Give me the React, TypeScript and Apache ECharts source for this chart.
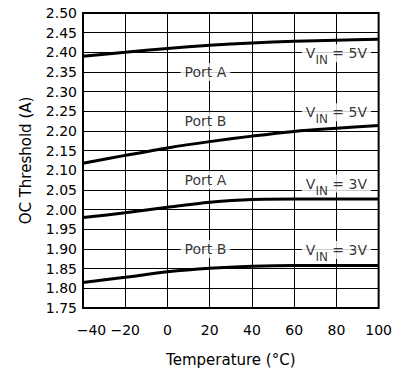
import React, { useEffect, useRef } from 'react';
import * as echarts from 'echarts';

// Temperature (°C) sample points
const temperatures = [-40, -20, 0, 20, 40, 60, 80, 100];
// OC threshold (A) per curve
const portA5V = [2.39, 2.4, 2.41, 2.418, 2.424, 2.428, 2.431, 2.433];
const portB5V = [2.118, 2.138, 2.157, 2.173, 2.187, 2.199, 2.207, 2.214];
const portA3V = [1.98, 1.992, 2.006, 2.019, 2.026, 2.027, 2.027, 2.027];
const portB3V = [1.815, 1.828, 1.842, 1.851, 1.856, 1.858, 1.858, 1.858];

// annotation texts anchored in data coordinates
const portNames = ['Port A', 'Port B', 'Port A', 'Port B'];
const portAnchorX = [18, 18, 18, 18];
const portAnchorY = [2.35, 2.225, 2.075, 1.9];
const vinValues = ['5V', '5V', '3V', '3V'];
const vinAnchorX = [80, 80, 80, 80];
const vinAnchorY = [2.4, 2.25, 2.069, 1.9];

const FONT = 'DejaVu Sans';

export default function App() {
  const ref = useRef<HTMLDivElement>(null);

  useEffect(() => {
    if (!ref.current) return;
    const chart = echarts.init(ref.current, undefined, { renderer: 'svg' });

    const lineSeries = [portA5V, portB5V, portA3V, portB3V].map((vals) => ({
      type: 'line',
      data: temperatures.map((t, i) => [t, vals[i]]),
      smooth: 0.3,
      symbol: 'none',
      lineStyle: { color: '#000', width: 3 },
      silent: true,
      z: 3,
    }));

    const labelBase = {
      show: true,
      position: 'inside',
      backgroundColor: '#fff',
      color: '#000',
      fontFamily: FONT,
      fontSize: 14,
      lineHeight: 16,
      padding: [1, 4, 1, 4],
    };

    const portSeries = {
      type: 'scatter',
      symbolSize: 0.1,
      itemStyle: { color: 'transparent' },
      silent: true,
      z: 5,
      data: portNames.map((n, i) => ({
        value: [portAnchorX[i], portAnchorY[i]],
        label: { ...labelBase, formatter: n },
      })),
    };

    const vinSeries = {
      type: 'scatter',
      symbolSize: 0.1,
      itemStyle: { color: 'transparent' },
      silent: true,
      z: 5,
      data: vinValues.map((v, i) => ({
        value: [vinAnchorX[i], vinAnchorY[i]],
        label: {
          ...labelBase,
          offset: [0, 1],
          formatter: `{m|V}{s|IN}{m| = ${v}}`,
          rich: {
            m: { fontFamily: FONT, fontSize: 14, lineHeight: 16, color: '#000' },
            s: {
              fontFamily: FONT,
              fontSize: 12,
              lineHeight: 16,
              padding: [14, 0, 0, 0],
              color: '#000',
            },
          },
        },
      })),
    };

    chart.setOption({
      animation: false,
      backgroundColor: '#fff',
      textStyle: { fontFamily: FONT, color: '#000' },
      grid: {
        left: 83,
        right: 16,
        top: 13,
        bottom: 68,
        show: true,
        borderColor: '#000',
        borderWidth: 2,
        backgroundColor: 'transparent',
      },
      xAxis: {
        type: 'value',
        min: -40,
        max: 100,
        interval: 20,
        name: 'Temperature (°C)',
        nameLocation: 'middle',
        nameGap: 44,
        nameTextStyle: { fontFamily: FONT, fontSize: 15, color: '#000' },
        axisLine: { show: false },
        axisTick: { show: false },
        splitLine: { show: true, lineStyle: { color: '#000', width: 1 } },
        axisLabel: {
          fontFamily: FONT,
          fontSize: 14,
          color: '#000',
          margin: 15,
          formatter: (v: number) =>
            v === -40 ? '{f|\u221240}' : String(v).replace('-', '\u2212'),
          rich: {
            f: { fontFamily: FONT, fontSize: 14, color: '#000', padding: [0, 0, 0, 17] },
          },
        },
      },
      yAxis: {
        type: 'value',
        min: 1.75,
        max: 2.5,
        interval: 0.05,
        name: 'OC Threshold (A)',
        nameLocation: 'middle',
        nameGap: 50,
        nameTextStyle: { fontFamily: FONT, fontSize: 15, color: '#000' },
        axisLine: { show: false },
        axisTick: { show: false },
        splitLine: { show: true, lineStyle: { color: '#000', width: 1 } },
        axisLabel: {
          fontFamily: FONT,
          fontSize: 14,
          color: '#000',
          margin: 6,
          formatter: (v: number) => v.toFixed(2),
        },
      },
      series: [...lineSeries, portSeries, vinSeries],
    });

    return () => chart.dispose();
  }, []);

  return (
    <div
      ref={ref}
      style={{ position: 'fixed', left: 0, top: 0, width: 395, height: 376, background: '#fff' }}
    />
  );
}
